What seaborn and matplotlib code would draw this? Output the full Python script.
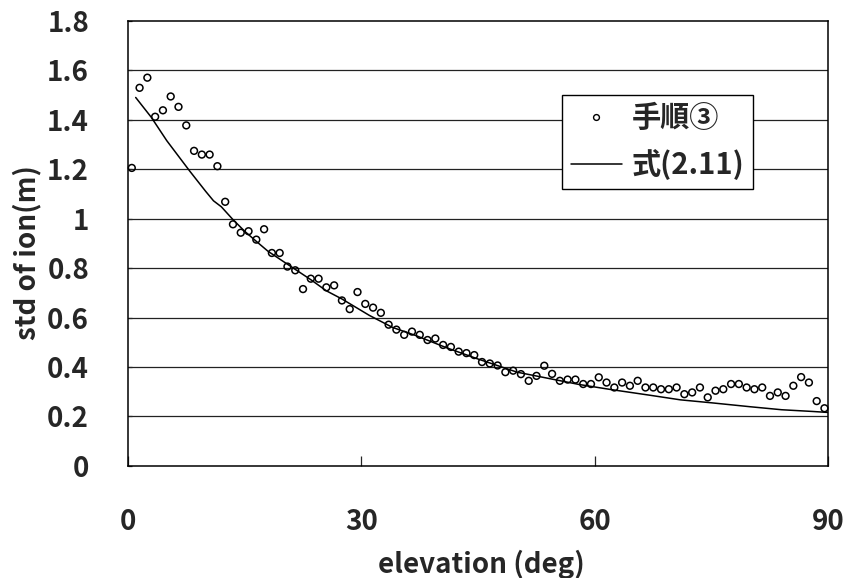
import numpy as np
import matplotlib
matplotlib.use("Agg")
import matplotlib.pyplot as plt
from matplotlib.lines import Line2D
from matplotlib.ticker import FuncFormatter
import seaborn as sns

# Measured standard deviation of the ionospheric delay, one value per 1-degree elevation bin
elev_pts = np.arange(0.5, 90.0, 1.0)
std_pts = [
    1.205, 1.529, 1.570, 1.412, 1.438, 1.494, 1.452, 1.377, 1.274, 1.259,
    1.259, 1.212, 1.068, 0.977, 0.943, 0.949, 0.915, 0.957, 0.861, 0.861,
    0.806, 0.791, 0.715, 0.757, 0.757, 0.722, 0.730, 0.669, 0.634, 0.703,
    0.655, 0.640, 0.619, 0.571, 0.551, 0.530, 0.543, 0.530, 0.509, 0.515,
    0.489, 0.481, 0.462, 0.456, 0.448, 0.420, 0.414, 0.406, 0.379, 0.385,
    0.371, 0.344, 0.364, 0.405, 0.372, 0.344, 0.349, 0.349, 0.331, 0.331,
    0.358, 0.337, 0.317, 0.337, 0.324, 0.344, 0.317, 0.317, 0.310, 0.310,
    0.317, 0.290, 0.297, 0.317, 0.277, 0.304, 0.310, 0.331, 0.331, 0.317,
    0.310, 0.317, 0.283, 0.297, 0.283, 0.324, 0.359, 0.337, 0.262, 0.233,
]

# Model curve, eq. (2.11)
elev_fit = [1, 3, 5, 8, 10, 11, 12, 13.5, 15, 16.5, 18, 20, 23.5, 25.5, 27.5,
            31, 34, 37, 41, 45, 50, 54, 58, 62, 67, 71, 75, 80, 84, 88, 90]
std_fit = [1.490, 1.410, 1.315, 1.190, 1.110, 1.072, 1.048, 0.996, 0.949,
           0.908, 0.868, 0.826, 0.753, 0.708, 0.675, 0.609, 0.560, 0.527,
           0.477, 0.432, 0.379, 0.354, 0.329, 0.309, 0.286, 0.267, 0.255,
           0.239, 0.227, 0.220, 0.216]

x_ticks = [0, 30, 60, 90]
y_ticks = [0, 0.2, 0.4, 0.6, 0.8, 1.0, 1.2, 1.4, 1.6, 1.8]
label_pts = "手順③"
label_fit = "式(2.11)"
x_label = "elevation (deg)"
y_label = "std of ion(m)"

sns.set_style("white")
plt.rcParams["font.family"] = ["Noto Sans CJK JP", "DejaVu Sans"]
plt.rcParams["font.weight"] = "bold"

fig = plt.figure(figsize=(8.47, 5.78), dpi=100)
ax = fig.add_axes([0.151, 0.194, 0.827, 0.770])

ax.set_axisbelow(True)
for v in y_ticks[1:-1]:
    ax.axhline(v, color="#222222", lw=0.9, zorder=0)

sns.lineplot(x=elev_fit, y=std_fit, color="black", lw=1.1, ax=ax, zorder=2)
sns.scatterplot(x=elev_pts, y=std_pts, marker="o", s=24, facecolors="none",
                edgecolor="black", linewidth=1.1, ax=ax, zorder=3, clip_on=False)

ax.set_xlim(0, 90)
ax.set_ylim(0, 1.8)
ax.set_xticks(x_ticks)
ax.set_yticks(y_ticks)
ax.yaxis.set_major_formatter(FuncFormatter(lambda v, p: f"{v:g}"))
ax.tick_params(axis="x", direction="in", length=7, width=0.9, pad=30,
               labelsize=20, bottom=True)
ax.tick_params(axis="y", direction="in", length=3, width=0.9, pad=28,
               labelsize=20, left=True)
for t in ax.get_xticklabels() + ax.get_yticklabels():
    t.set_fontweight("bold")

for s in ax.spines.values():
    s.set_color("black")
    s.set_linewidth(1.1)

ax.set_xlabel(x_label, fontsize=20, fontweight="bold")
ax.set_ylabel(y_label, fontsize=20, fontweight="bold")
ax.xaxis.set_label_coords(0.504, -0.188)
ax.yaxis.set_label_coords(-0.123, 0.48)

handles = [
    Line2D([], [], marker="o", ls="none", mfc="none", mec="black", ms=4.2, mew=1.0),
    Line2D([], [], color="black", lw=1.1),
]
leg = ax.legend(handles, [label_pts, label_fit], loc="upper left",
                bbox_to_anchor=(0.62, 0.834), frameon=True, fancybox=False,
                edgecolor="black", framealpha=1, borderpad=0.3,
                labelspacing=0.55, handlelength=1.75, handletextpad=0.32,
                borderaxespad=0, prop={"size": 21, "weight": "bold"})
leg.get_frame().set_linewidth(1.0)

fig.savefig("out.png", dpi=100)
